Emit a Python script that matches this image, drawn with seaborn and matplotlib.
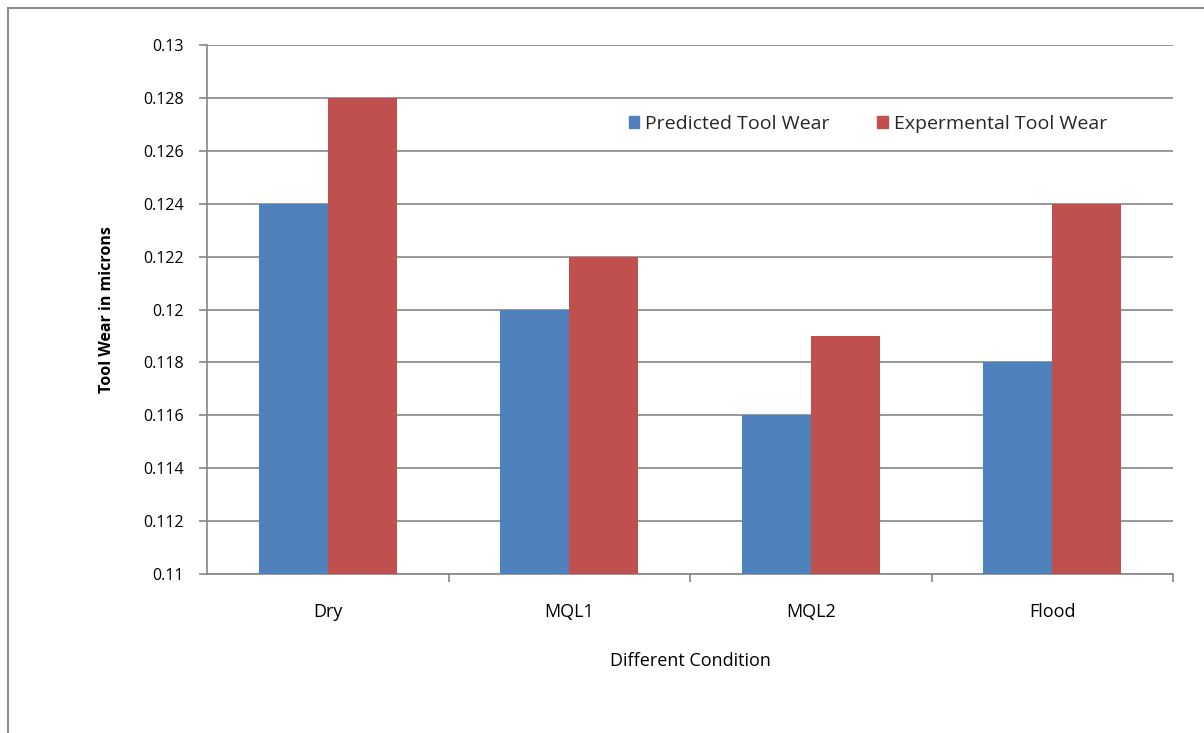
import matplotlib
matplotlib.use("Agg")
import matplotlib.pyplot as plt
import seaborn as sns
import pandas as pd
from matplotlib.patches import Rectangle

conditions = ["Dry", "MQL1", "MQL2", "Flood"]
predicted = [0.124, 0.120, 0.116, 0.118]
experimental = [0.128, 0.122, 0.119, 0.124]
series_names = ["Predicted Tool Wear", "Expermental Tool Wear"]
y_ticks = [0.11, 0.112, 0.114, 0.116, 0.118, 0.12, 0.122, 0.124, 0.126, 0.128, 0.13]
y_tick_labels = ["0.11", "0.112", "0.114", "0.116", "0.118", "0.12", "0.122", "0.124", "0.126", "0.128", "0.13"]

df = pd.DataFrame({
    "Condition": conditions * 2,
    "Value": predicted + experimental,
    "Series": [series_names[0]] * 4 + [series_names[1]] * 4,
})

sns.set_theme(style="white")
plt.rcParams["font.family"] = ["Open Sans", "DejaVu Sans"]

fig = plt.figure(figsize=(12.04, 7.33), dpi=100)
ax = fig.add_axes([207/1204, 1-574/733, (1173-207)/1204, (574-45)/733])

grid_c = "#868686"
sns.barplot(data=df, x="Condition", y="Value", hue="Series", order=conditions,
            hue_order=series_names, palette=["#4F81BD", "#C0504D"],
            width=0.57, gap=0, saturation=1, ax=ax, zorder=3, edgecolor="none", linewidth=0)

ax.set_ylim(0.11, 0.13)
ax.set_xlim(-0.5, 3.5)
ax.set_yticks(y_ticks)
ax.set_yticklabels(y_tick_labels)
ax.yaxis.grid(True, color=grid_c, linewidth=1.2, zorder=0)
ax.set_axisbelow(True)
for s in ["top", "right"]:
    ax.spines[s].set_visible(False)
for s in ["left", "bottom"]:
    ax.spines[s].set_color(grid_c)
    ax.spines[s].set_linewidth(1.2)

ax.tick_params(axis="y", which="major", left=True, length=6, color=grid_c, width=1.2,
               labelsize=11.5, pad=11, labelcolor="black")
ax.set_xticks([0, 1, 2, 3])
ax.set_xticklabels(conditions)
ax.tick_params(axis="x", which="major", bottom=False, labelsize=13, pad=15, labelcolor="black")
ax.set_xticks([0.5, 1.5, 2.5, 3.5], minor=True)
ax.tick_params(axis="x", which="minor", bottom=True, length=6, color=grid_c, width=1.2)

ax.set_xlabel("Different Condition", fontsize=13, labelpad=22, color="black")
ax.set_ylabel("Tool Wear in microns", fontsize=11.5, fontweight="bold", labelpad=20, color="black")

ax.legend_.remove()
handles = [Rectangle((0, 0), 1, 1, color=c) for c in ["#4F81BD", "#C0504D"]]
fig.legend(handles, series_names, loc="center", bbox_to_anchor=(868/1204, 1-124/733),
           ncol=2, frameon=False, fontsize=14, handlelength=0.55, handleheight=0.55,
           handletextpad=0.3, columnspacing=2.45)

fig.add_artist(Rectangle((8/1204, -0.1), 2, 1.1 - 8/733, transform=fig.transFigure,
                         fill=False, edgecolor="#8c8c8c", linewidth=1.5))

fig.savefig("out.png", dpi=100)
